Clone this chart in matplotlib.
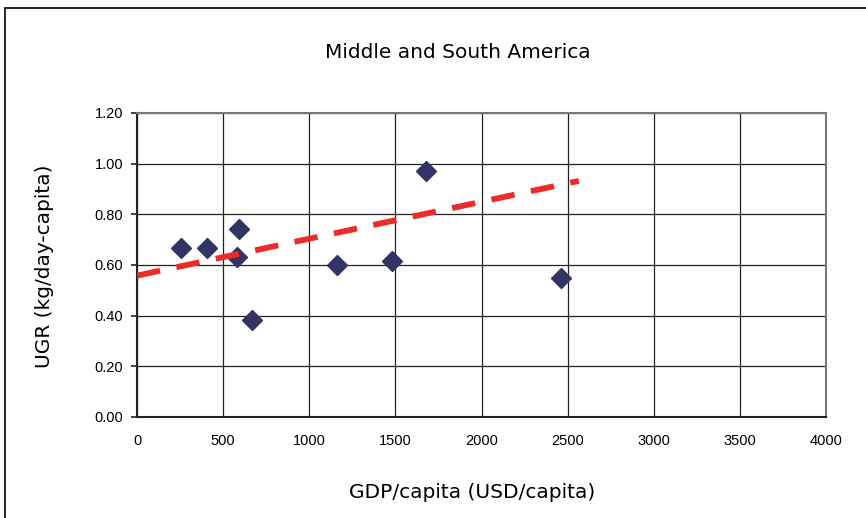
import matplotlib
matplotlib.use("Agg")
import matplotlib.pyplot as plt
from matplotlib.patches import Rectangle

# GDP per capita (USD/capita) and urban garbage generation rate (kg/day-capita)
gdp = [254, 405, 591, 578, 667, 1161, 1483, 1680, 2459]
ugr = [0.666, 0.666, 0.743, 0.633, 0.381, 0.600, 0.617, 0.971, 0.550]

# Trend line endpoints
trend_gdp = [0, 2565]
trend_ugr = [0.558, 0.932]

x_ticks = [0, 500, 1000, 1500, 2000, 2500, 3000, 3500, 4000]
y_ticks = [0.0, 0.2, 0.4, 0.6, 0.8, 1.0, 1.2]

title = "Middle and South America"
x_label = "GDP/capita (USD/capita)"
y_label = "UGR (kg/day-capita)"

plt.rcParams["font.family"] = ["Liberation Sans", "DejaVu Sans"]
plt.rcParams["lines.scale_dashes"] = False

W, H = 866, 518
fig = plt.figure(figsize=(W / 100, H / 100), dpi=100)
fig.patch.set_facecolor("white")

# outer chart frame (left and top edges visible)
fig.patches.append(Rectangle((5 / W, -0.1), 1.2, (H - 8) / H + 0.1,
                             transform=fig.transFigure, fill=False,
                             edgecolor="#222222", linewidth=1.4))

ax = fig.add_axes([137 / W, 1 - 417 / H, (826 - 137) / W, (417 - 113) / H])
ax.set_xlim(0, 4000)
ax.set_ylim(0, 1.2)
ax.set_xticks(x_ticks)
ax.set_yticks(y_ticks)
ax.set_xticklabels([str(v) for v in x_ticks])
ax.set_yticklabels([f"{v:.2f}" for v in y_ticks])
ax.grid(True, color="#222222", linewidth=0.9)
ax.set_axisbelow(True)
for side in ["top", "right"]:
    ax.spines[side].set_color("#777777")
    ax.spines[side].set_linewidth(1.5)
for side in ["left", "bottom"]:
    ax.spines[side].set_color("#222222")
    ax.spines[side].set_linewidth(1.5)
ax.tick_params(axis="both", direction="out", length=4, width=1.2, color="#222222",
               labelsize=10.5, pad=6)
ax.tick_params(axis="x", length=0, pad=12)

ax.plot(gdp, ugr, linestyle="none", marker="D", markersize=10,
        color="#333366", markeredgecolor="#333366", zorder=3)
ax.plot(trend_gdp, trend_ugr, color="#ee2a2a", linewidth=4.2, dashes=(17, 12),
        solid_capstyle="butt", dash_capstyle="butt", zorder=4)

label_font = dict(family="DejaVu Sans", fontsize=14.5)
fig.text(458 / W, 1 - 52 / H, title, ha="center", va="center", **label_font)
fig.text(472 / W, 1 - 493 / H, x_label, ha="center", va="center", **label_font)
fig.text(45 / W, 1 - 266 / H, y_label, ha="center", va="center", rotation=90,
         **label_font)

fig.savefig("out.png", dpi=100)
